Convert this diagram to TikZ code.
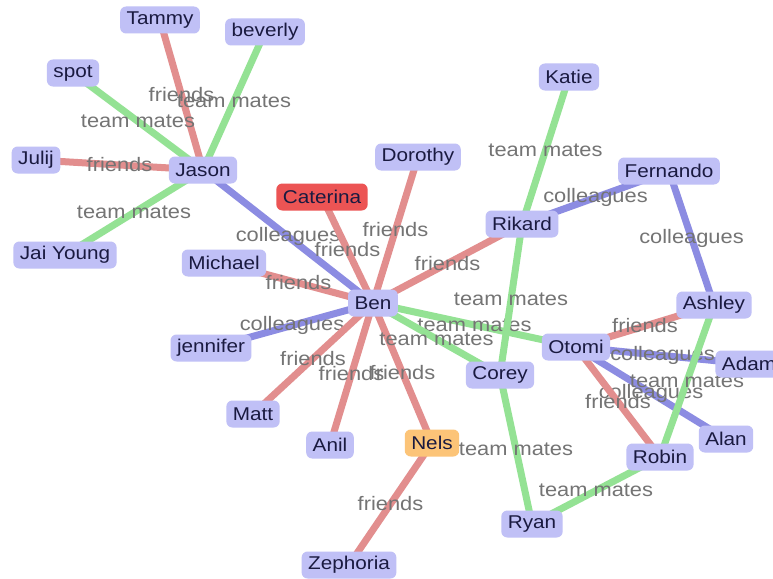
\documentclass[tikz,border=0pt]{standalone}
\usepackage{fontspec}
\setmainfont[FakeStretch=1.12]{Liberation Sans}
\usetikzlibrary{backgrounds}
\definecolor{nodefill}{RGB}{192,192,246}
\definecolor{catfill}{RGB}{236,84,84}
\definecolor{nelsfill}{RGB}{252,196,120}
\definecolor{nodetext}{RGB}{26,26,64}
\definecolor{frcol}{RGB}{226,142,142}
\definecolor{tmcol}{RGB}{148,226,148}
\definecolor{cocol}{RGB}{140,140,226}
\definecolor{labcol}{RGB}{116,116,116}
\tikzset{
  person/.style={fill=nodefill, text=nodetext, rounded corners=6pt, minimum height=27pt,
    inner xsep=6.5pt, inner ysep=0pt, font=\fontsize{18.5}{20}\selectfont},
  edgebase/.style={line width=7pt},
  fr/.style={edgebase, draw=frcol},
  tm/.style={edgebase, draw=tmcol},
  co/.style={edgebase, draw=cocol},
  lab/.style={text=labcol, inner sep=0pt, font=\fontsize{19.5}{21}\selectfont}
}
\begin{document}
\begin{tikzpicture}[x=1pt,y=-1pt]
\useasboundingbox (0,0) rectangle (773,578);
\clip (0,0) rectangle (773,578);
% nodes
\node[person] (tammy) at (160,20) {Tammy};
\node[person] (beverly) at (265,32) {beverly};
\node[person] (spot) at (73,73) {spot};
\node[person] (julij) at (36,160) {Julij};
\node[person] (jason) at (203,170) {Jason};
\node[person] (jai) at (65,255) {Jai Young};
\node[person] (dorothy) at (418,157) {Dorothy};
\node[person, fill=catfill] (caterina) at (322,197) {Caterina};
\node[person] (michael) at (224,263) {Michael};
\node[person] (rikard) at (522,224) {Rikard};
\node[person] (katie) at (569,77) {Katie};
\node[person] (fernando) at (669,171) {Fernando};
\node[person] (ben) at (373,303) {Ben};
\node[person] (jennifer) at (211,348) {jennifer};
\node[person] (otomi) at (576,347) {Otomi};
\node[person] (corey) at (500,375) {Corey};
\node[person] (ashley) at (714,305) {Ashley};
\node[person] (adam) at (749,364) {Adam};
\node[person] (matt) at (253,414) {Matt};
\node[person] (anil) at (330,445) {Anil};
\node[person, fill=nelsfill] (nels) at (432,443) {Nels};
\node[person] (alan) at (726,439) {Alan};
\node[person] (robin) at (660,457) {Robin};
\node[person] (ryan) at (532,524) {Ryan};
\node[person] (zephoria) at (349,565) {Zephoria};
% edges
\begin{scope}[on background layer]
\fill[white] (0,0) rectangle (773,578);
\draw[fr] (jason.center) -- node[lab]{friends} (tammy.center);
\draw[tm] (jason.center) -- node[lab]{team mates} (beverly.center);
\draw[tm] (jason.center) -- node[lab]{team mates} (spot.center);
\draw[fr] (jason.center) -- node[lab]{friends} (julij.center);
\draw[tm] (jason.center) -- node[lab]{team mates} (jai.center);
\draw[co] (jason.center) -- node[lab]{colleagues} (ben.center);
\draw[fr] (ben.center) -- node[lab]{friends} (dorothy.center);
\draw[fr] (ben.center) -- node[lab]{friends} (caterina.center);
\draw[fr] (ben.center) -- node[lab]{friends} (michael.center);
\draw[fr] (ben.center) -- node[lab]{friends} (rikard.center);
\draw[co] (ben.center) -- node[lab]{colleagues} (jennifer.center);
\draw[fr] (ben.center) -- node[lab]{friends} (matt.center);
\draw[fr] (ben.center) -- node[lab]{friends} (anil.center);
\draw[fr] (ben.center) -- node[lab]{friends} (nels.center);
\draw[tm] (ben.center) -- node[lab]{team mates} (otomi.center);
\draw[tm] (ben.center) -- node[lab]{team mates} (corey.center);
\draw[tm] (rikard.center) -- node[lab]{team mates} (katie.center);
\draw[co] (rikard.center) -- node[lab]{colleagues} (fernando.center);
\draw[tm] (rikard.center) -- node[lab]{team mates} (corey.center);
\draw[tm] (corey.center) -- node[lab]{team mates} (ryan.center);
\draw[co] (fernando.center) -- node[lab]{colleagues} (ashley.center);
\draw[fr] (otomi.center) -- node[lab]{friends} (ashley.center);
\draw[co] (otomi.center) -- node[lab]{colleagues} (adam.center);
\draw[co] (otomi.center) -- node[lab]{colleagues} (alan.center);
\draw[fr] (otomi.center) -- node[lab]{friends} (robin.center);
\draw[tm] (ashley.center) -- node[lab]{team mates} (robin.center);
\draw[tm] (robin.center) -- node[lab]{team mates} (ryan.center);
\draw[fr] (nels.center) -- node[lab]{friends} (zephoria.center);
\end{scope}
\end{tikzpicture}
\end{document}
